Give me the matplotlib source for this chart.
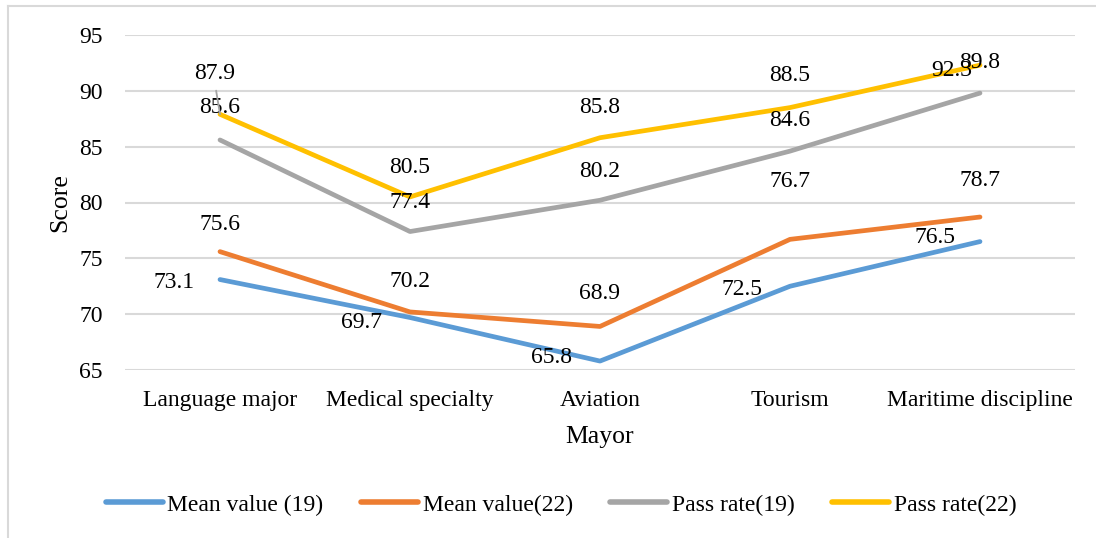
"""
Line chart of mean scores and pass rates by major, 2019 vs 2022.
"""

import matplotlib
matplotlib.use("Agg")
import matplotlib.pyplot as plt
from matplotlib.lines import Line2D

plt.rcParams['font.family'] = ['Liberation Serif', 'DejaVu Serif']

majors = ["Language major", "Medical specialty", "Aviation", "Tourism",
          "Maritime discipline"]

mean_19 = [73.1, 69.7, 65.8, 72.5, 76.5]
mean_22 = [75.6, 70.2, 68.9, 76.7, 78.7]
pass_19 = [85.6, 77.4, 80.2, 84.6, 89.8]
pass_22 = [87.9, 80.5, 85.8, 88.5, 92.3]

series_names = ["Mean value (19)", "Mean value(22)", "Pass rate(19)", "Pass rate(22)"]
colors = ["#5B9BD5", "#ED7D31", "#A5A5A5", "#FFC000"]

# label offsets in pixels (dx, dy) for each point of each series
label_offsets = [
    [(-46, -3), (-48, -5), (-49, 4), (-48, -3), (-45, 4)],
    [(0, 27), (0, 30), (0, 33), (0, 58), (0, 37)],
    [(0, 32), (0, 29), (0, 29), (0, 31), (0, 31)],
    [(-5, 41), (0, 29), (0, 30), (0, 32), (-28, -5)],
]

W, H = 1096, 538
fig = plt.figure(figsize=(W / 100, H / 100), dpi=100)
ax = fig.add_axes([125 / W, 1 - 370 / H, 950 / W, 335 / H])

x = list(range(len(majors)))
all_series = [mean_19, mean_22, pass_19, pass_22]

for vals, name, col in zip(all_series, series_names, colors):
    ax.plot(x, vals, color=col, lw=3.4, solid_capstyle='round',
            solid_joinstyle='round', label=name, zorder=3)

for s, (vals, offs) in enumerate(zip(all_series, label_offsets)):
    for i, v in enumerate(vals):
        dx, dy = offs[i]
        kw = {}
        if s == 3 and i == 0:
            # leader line from the shifted label back to its point
            kw['arrowprops'] = dict(arrowstyle='-', color='#A5A5A5', lw=1.3,
                                    relpos=(0.5, 0), shrinkA=3, shrinkB=0)
        ax.annotate(f"{v:.1f}", (i, v), xytext=(dx, dy),
                    textcoords='offset pixels', ha='center', va='center',
                    fontsize=17, color='black', zorder=5, **kw)

ax.set_xlim(-0.5, len(majors) - 0.5)
ax.set_ylim(65, 95)
ax.set_yticks(range(65, 96, 5))
ax.set_xticks(x)
ax.set_xticklabels(majors)
ax.tick_params(axis='both', length=0, labelsize=17)
ax.tick_params(axis='y', pad=16)
ax.tick_params(axis='x', pad=14.5)
ax.grid(axis='y', color='#D9D9D9', lw=1.5, zorder=0)
for sp in ax.spines.values():
    sp.set_visible(False)

ax.set_xlabel("Mayor", fontsize=18.5, labelpad=11)
ax.set_ylabel("Score", fontsize=18.5, labelpad=5.5)

handles = [Line2D([0], [0], color=c, lw=4, solid_capstyle='round') for c in colors]
fig.legend(handles, series_names, loc='center', bbox_to_anchor=(0.512, 1 - 505 / H),
           ncol=4, frameon=False, fontsize=17, handlelength=2.4,
           handletextpad=0.2, columnspacing=1.6)

# outer chart frame (left and top edges)
fig.add_artist(Line2D([8 / W, 8 / W], [0, 1 - 6 / H], transform=fig.transFigure,
                      color='#D9D9D9', lw=1.5))
fig.add_artist(Line2D([8 / W, 1], [1 - 6 / H, 1 - 6 / H], transform=fig.transFigure,
                      color='#D9D9D9', lw=1.5))

fig.savefig("out.png", dpi=100)
